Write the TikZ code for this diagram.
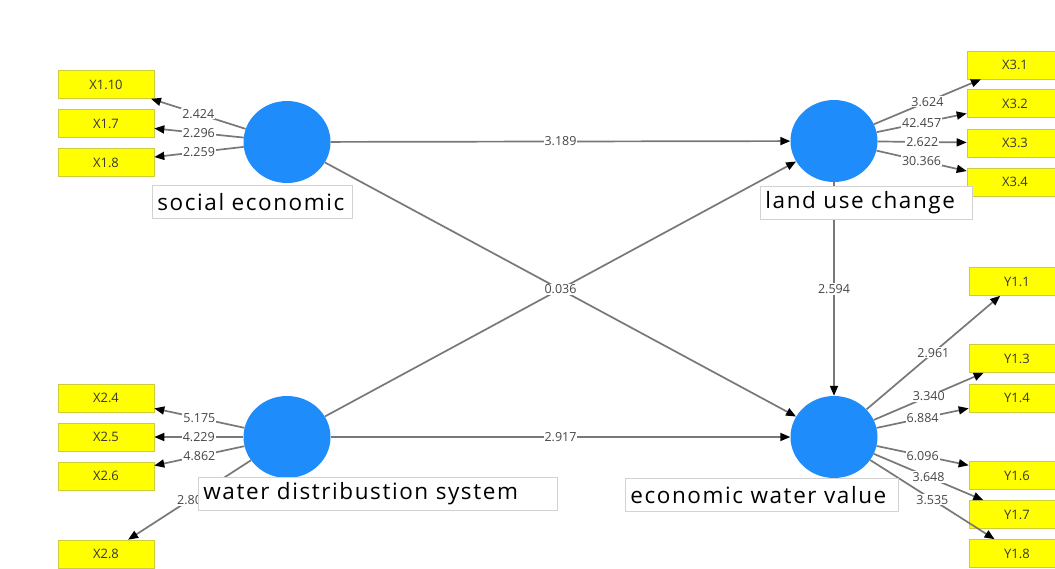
\documentclass[tikz,border=0pt]{standalone}
\usepackage{fontspec}
\setmainfont{Open Sans}
\usetikzlibrary{arrows.meta,shapes.geometric}
\definecolor{lvblue}{RGB}{30,140,250}
\definecolor{indyel}{RGB}{255,255,0}
\definecolor{indborder}{RGB}{205,205,60}
\definecolor{pathgray}{RGB}{120,120,120}
\definecolor{lblgray}{RGB}{70,70,70}
\definecolor{boxgray}{RGB}{210,210,210}
\begin{document}
\begin{tikzpicture}[x=1pt,y=-1pt,
  latent/.style={ellipse, fill=lvblue, minimum width=87pt, minimum height=82pt, inner sep=0pt},
  ind/.style={rectangle, fill=indyel, draw=indborder, line width=0.6pt, minimum width=96pt, minimum height=28pt, inner sep=0pt, font=\fontsize{13}{14}\selectfont, text=black!78},
  conn/.style={draw=pathgray, line width=1.7pt, -{Triangle[length=10pt,width=8pt,color=black]}},
  wt/.style={fill=white, inner sep=1pt, font=\fontsize{12.5}{13}\selectfont, text=lblgray},
  namebox/.style={rectangle, fill=white, draw=boxgray, line width=0.8pt, minimum height=33pt, inner xsep=5pt, inner ysep=0pt, anchor=north west, font=\fontsize{22.5}{24}\selectfont\addfontfeature{LetterSpace=7}, text=black, align=left}
]
\fill[white] (0,0) rectangle (1055,569);
\useasboundingbox (0,0) rectangle (1055,569);

% latent variables
\node[latent] (se)  at (287,142) {};
\node[latent] (luc) at (834,141) {};
\node[latent] (wd)  at (287,437) {};
\node[latent] (ewv) at (834,437) {};

% indicators
\node[ind] (x110) at (106,84.5) {X1.10};
\node[ind] (x17)  at (106,123.5) {X1.7};
\node[ind] (x18)  at (106,162.5) {X1.8};
\node[ind] (x24)  at (106,398) {X2.4};
\node[ind] (x25)  at (106,437) {X2.5};
\node[ind] (x26)  at (106,476) {X2.6};
\node[ind] (x28)  at (106,554) {X2.8};
\node[ind] (x31)  at (1015,65) {X3.1};
\node[ind] (x32)  at (1015,103.5) {X3.2};
\node[ind] (x33)  at (1015,143) {X3.3};
\node[ind] (x34)  at (1015,182) {X3.4};
\node[ind] (y11)  at (1017,281.5) {Y1.1};
\node[ind] (y13)  at (1017,358.5) {Y1.3};
\node[ind] (y14)  at (1017,398) {Y1.4};
\node[ind] (y16)  at (1017,475.5) {Y1.6};
\node[ind] (y17)  at (1017,514.5) {Y1.7};
\node[ind] (y18)  at (1017,553.5) {Y1.8};

% outer loadings
\draw[conn] (se) -- node[wt]{2.424} (x110);
\draw[conn] (se) -- node[wt]{2.296} (x17);
\draw[conn] (se) -- node[wt]{2.259} (x18);
\draw[conn] (wd) -- node[wt]{5.175} (x24);
\draw[conn] (wd) -- node[wt]{4.229} (x25);
\draw[conn] (wd) -- node[wt]{4.862} (x26);
\draw[conn] (wd) -- node[wt]{2.80} (x28);
\draw[conn] (luc) -- node[wt]{3.624} (x31);
\draw[conn] (luc) -- node[wt]{42.457} (x32);
\draw[conn] (luc) -- node[wt]{2.622} (x33);
\draw[conn] (luc) -- node[wt]{30.366} (x34);
\draw[conn] (ewv) -- node[wt]{2.961} (y11);
\draw[conn] (ewv) -- node[wt]{3.340} (y13);
\draw[conn] (ewv) -- node[wt]{6.884} (y14);
\draw[conn] (ewv) -- node[wt]{6.096} (y16);
\draw[conn] (ewv) -- node[wt]{3.648} (y17);
\draw[conn] (ewv) -- node[wt]{3.535} (y18);

% inner paths
\draw[conn] (se) -- node[wt]{3.189} (luc);
\draw[conn] (wd) -- node[wt]{2.917} (ewv);
\draw[conn] (wd) -- (luc);
\draw[conn] (se) -- node[wt]{0.036} (ewv);
\draw[conn] (luc) -- node[wt]{2.594} (ewv);

% name boxes
\node[namebox, text width=190pt] (selbl)  at (152,185) {social economic};
\node[namebox, text width=202pt] (luclbl) at (760,186) {land use change};
\node[namebox, text width=349pt] (wdlbl)  at (198,477) {water distribustion system};
\node[namebox, text width=263pt] (ewvlbl) at (625,478) {economic water value};
\end{tikzpicture}
\end{document}
